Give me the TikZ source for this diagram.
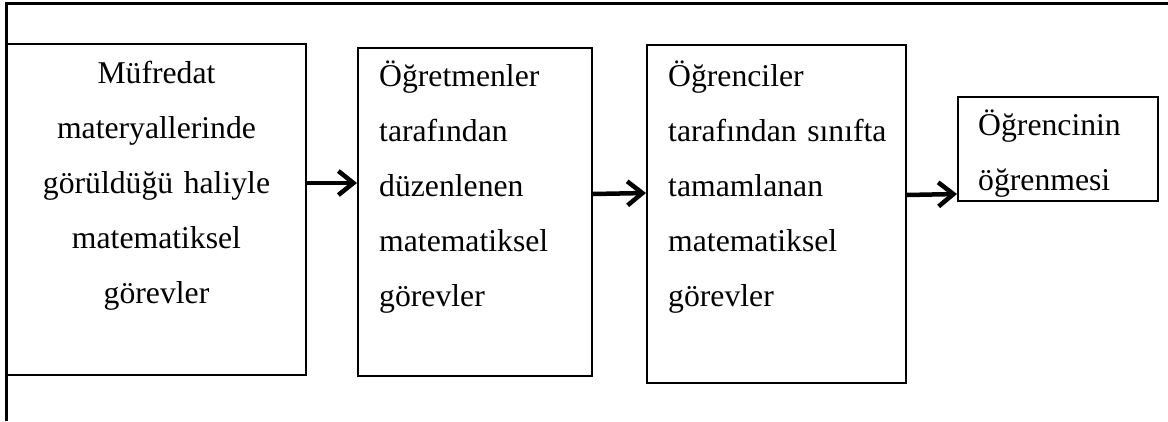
\documentclass[tikz,border=0pt]{standalone}
\usepackage{fontspec}
\setmainfont{Liberation Serif}
\usetikzlibrary{arrows.meta}
\begin{document}
\begin{tikzpicture}[x=1pt,y=-1pt,
  box/.style={draw=black,line width=2pt,inner sep=0pt},
  txt/.style={inner sep=0pt,font=\fontsize{31.7}{55}\selectfont},
  flow/.style={line width=4.5pt,-{Straight Barb[length=15pt,width=24pt,line width=4.5pt]}}]
\useasboundingbox (0,0) rectangle (1168,421);
\fill[white] (0,0) rectangle (1168,421);
% outer frame (top and left only)
\coordinate (ftl) at (6,3);
\coordinate (ftr) at (1168,3);
\coordinate (fbl) at (6,421);
\draw[line width=3pt] (ftr) -- (ftl) -- (fbl);
% boxes
\node[box,minimum width=299pt,minimum height=331pt] (b1) at (156.5,209.5) {};
\node[box,minimum width=234pt,minimum height=328pt] (b2) at (475,212) {};
\node[box,minimum width=259pt,minimum height=338pt] (b3) at (776.5,214) {};
\node[box,minimum width=200pt,minimum height=104pt] (b4) at (1058,149) {};
% texts
\node[txt,anchor=base,text width=290pt,align=center] (t1) at (156.5,83)
  {Müfredat\\materyallerinde\\görüldüğü haliyle\\matematiksel\\görevler};
\node[txt,anchor=base west,text width=220pt,align=left] (t2) at (379,86)
  {Öğretmenler\\tarafından\\düzenlenen\\matematiksel\\görevler};
\node[txt,anchor=base west,text width=240pt,align=left] (t3) at (668,86)
  {Öğrenciler\\tarafından sınıfta\\tamamlanan\\matematiksel\\görevler};
\node[txt,anchor=base west,text width=180pt,align=left] (t4) at (978,135)
  {Öğrencinin\\öğrenmesi};
% arrows
\draw[flow] (b1.east |- 0,183) -- (b2.west |- 0,183);
\draw[flow] (b2.east |- 0,194) -- (b3.west |- 0,193);
\draw[flow] (b3.east |- 0,195) -- (b4.west |- 0,194);
\end{tikzpicture}
\end{document}
